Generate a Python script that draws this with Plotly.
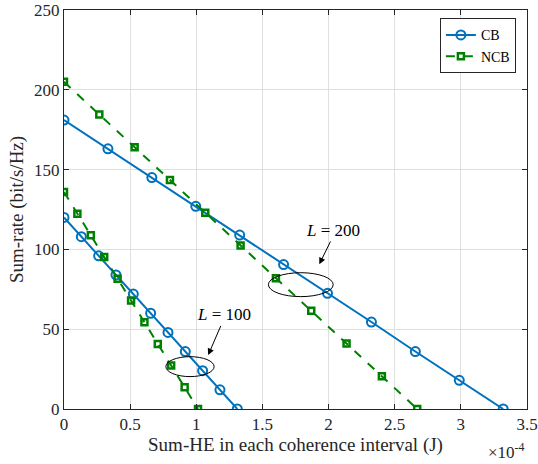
import plotly.graph_objects as go

# x values in units of 1e-4 J
cb200_x = [0, 0.332, 0.664, 0.996, 1.328, 1.66, 1.992, 2.324, 2.656, 2.988, 3.32]
cb200_y = [181, 163, 145, 127, 109, 90.5, 72.5, 54.5, 36, 18, 0]
ncb200_x = [0, 0.267, 0.534, 0.801, 1.068, 1.335, 1.602, 1.869, 2.136, 2.403, 2.67]
ncb200_y = [205, 184.5, 164, 143.5, 123, 102.5, 82, 61.5, 41, 20.5, 0]
cb100_x = [0, 0.131, 0.262, 0.393, 0.524, 0.655, 0.786, 0.917, 1.048, 1.179, 1.31]
cb100_y = [120, 108, 96, 84, 72, 60, 48, 36, 24, 12, 0]
ncb100_x = [0, 0.101, 0.203, 0.304, 0.405, 0.507, 0.608, 0.709, 0.81, 0.912, 1.013]
ncb100_y = [136, 122.4, 108.8, 95.2, 81.6, 68, 54.4, 40.8, 27.2, 13.6, 0]

x_ticks = [0, 0.5, 1, 1.5, 2, 2.5, 3, 3.5]
x_tick_labels = ["0", "0.5", "1", "1.5", "2", "2.5", "3", "3.5"]
y_ticks = [0, 50, 100, 150, 200, 250]

BLUE = "#0072BD"
GREEN = "#008000"
FONT = "Liberation Serif"
FS = 17
FT = 19

fig = go.Figure()

def cb_trace(x, y, show):
    return go.Scatter(x=x, y=y, mode="lines+markers", name="CB", showlegend=show,
                      legendgroup="cb",
                      line=dict(color=BLUE, width=2),
                      marker=dict(symbol="circle-open", size=9, color=BLUE,
                                  line=dict(width=2, color=BLUE)))

def ncb_trace(x, y, show):
    return go.Scatter(x=x, y=y, mode="lines+markers", name="NCB", showlegend=show,
                      legendgroup="ncb",
                      line=dict(color=GREEN, width=2, dash="dash"),
                      marker=dict(symbol="square-open", size=6, color=GREEN,
                                  line=dict(width=2.5, color=GREEN)))

fig.add_trace(cb_trace(cb200_x, cb200_y, True))
fig.add_trace(ncb_trace(ncb200_x, ncb200_y, True))
fig.add_trace(cb_trace(cb100_x, cb100_y, False))
fig.add_trace(ncb_trace(ncb100_x, ncb100_y, False))

axis_common = dict(
    showline=True, linecolor="#262626", linewidth=1, mirror="allticks",
    ticks="inside", ticklen=5, tickcolor="#262626",
    showgrid=True, gridcolor="#dfdfdf", gridwidth=1, zeroline=False,
    tickfont=dict(family=FONT, size=FS, color="#262626"),
    automargin=False,
)

fig.update_xaxes(range=[0, 3.5], tickvals=x_ticks, ticktext=x_tick_labels,
                 title=dict(text="Sum-HE in each coherence interval (J)",
                            font=dict(family=FONT, size=FT, color="#262626"), standoff=0),
                 **axis_common)
fig.update_yaxes(range=[0, 250], tickvals=y_ticks,
                 title=dict(text="Sum-rate (bit/s/Hz)",
                            font=dict(family=FONT, size=FT, color="#262626"), standoff=5),
                 **axis_common)

fig.add_shape(type="circle", xref="x", yref="y", x0=0.77, x1=1.135, y0=20.3, y1=32.8,
              line=dict(color="black", width=1))
fig.add_shape(type="circle", xref="x", yref="y", x0=1.545, x1=2.035, y0=70.4, y1=85.4,
              line=dict(color="black", width=1))

for (tx, ty, hx, hy, lx, ly, lab) in [
    (1.19, 53, 1.09, 33.8, 1.21, 59, "100"),
    (2.02, 105.9, 1.93, 90.7, 2.03, 112, "200"),
]:
    fig.add_annotation(x=hx, y=hy, ax=tx, ay=ty, xref="x", yref="y", axref="x", ayref="y",
                       text="", showarrow=True, arrowhead=2, arrowsize=1.3, arrowwidth=1,
                       arrowcolor="black", standoff=0, startstandoff=0)
    fig.add_annotation(x=lx, y=ly, xref="x", yref="y", showarrow=False,
                       text="<i>L</i> = " + lab,
                       font=dict(family=FONT, size=FS, color="black"))

fig.add_annotation(x=1, y=0, xref="paper", yref="paper", xanchor="right", yanchor="top",
                   xshift=0, yshift=-29, showarrow=False,
                   text="×10<sup>-4</sup>",
                   font=dict(family=FONT, size=FS, color="#262626"))

fig.update_layout(
    width=538, height=464,
    margin=dict(l=64, r=11, t=10, b=55),
    plot_bgcolor="white", paper_bgcolor="white",
    legend=dict(x=0.976, y=0.979, xanchor="right", yanchor="top",
                bgcolor="white", bordercolor="#262626", borderwidth=1,
                font=dict(family=FONT, size=14, color="black"),
                tracegroupgap=0, itemwidth=30),
    showlegend=True,
)

fig.write_html("out.html", config={"displayModeBar": False},
               post_script="document.body.style.margin='0';")
